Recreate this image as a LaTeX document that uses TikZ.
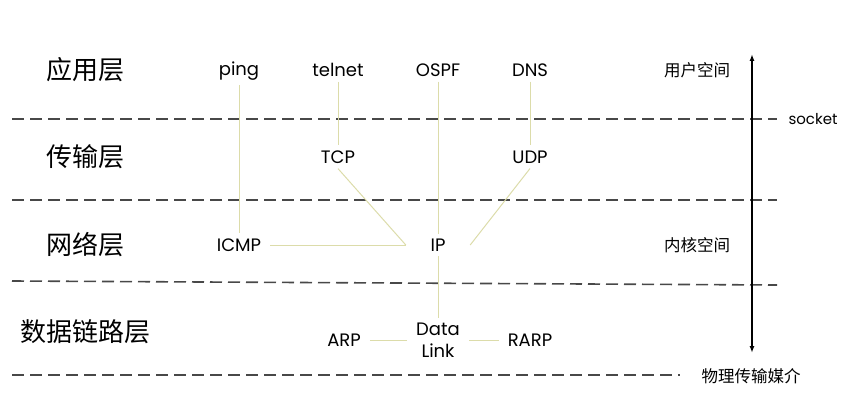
\documentclass[tikz,border=0pt]{standalone}
\usepackage{fontspec}
\setmainfont{Poppins}
\newfontfamily\cjk{Noto Sans CJK SC}
\usetikzlibrary{arrows.meta}
\definecolor{linkc}{HTML}{DCDCAA}
\definecolor{sepc}{HTML}{484848}

\begin{document}
\begin{tikzpicture}[x=1pt,y=-1pt,
		layer/.style={font=\cjk\fontsize{26}{30}\selectfont},
		proto/.style={font=\fontsize{18}{21}\selectfont,inner xsep=9pt,inner ysep=5pt},
		side/.style={font=\cjk\fontsize{16.5}{20}\selectfont},
		link/.style={color=linkc,line width=1pt},
		sep/.style={color=sepc,line width=1.6pt,dash pattern=on 12pt off 6pt}]
		\useasboundingbox (0,0) rectangle (848,409);
		
		\node[layer] (app) at (85, 70) {应用层};
		\node[layer] (trans) at (85, 157) {传输层};
		\node[layer] (net) at (85, 245) {网络层};
		\node[layer] (dl) at (85, 332) {数据链路层};
		
		\node[proto] (ping) at (239, 71) {ping};
		\node[proto] (telnet) at (338, 70) {telnet};
		\node[proto] (ospf) at (438, 70) {OSPF};
		\node[proto] (dns) at (530, 70) {DNS};
		\node[proto] (tcp) at (338, 157) {TCP};
		\node[proto] (udp) at (530, 157) {UDP};
		\node[proto] (icmp) at (239, 245) {ICMP};
		\node[proto,minimum width=64pt] (ip) at (438, 245) {IP};
		\node[proto,align=center,font=\fontsize{18}{22}\selectfont] (datalink) at (438, 340) {Data\\Link};
		\node[proto] (arp) at (344, 340) {ARP};
		\node[proto] (rarp) at (530, 340) {RARP};
		
		\node[side] (user) at (697, 70) {用户空间};
		\node[font=\fontsize{15}{18}\selectfont] (socket) at (813, 119) {socket};
		\node[side] (kernel) at (697, 245) {内核空间};
		\node[side] (phys) at (751, 376) {物理传输媒介};
		
		\draw[sep] (12, 119) -- (777, 119);
		\draw[sep] (12, 200) -- (777, 200);
		\draw[sep] (12, 281) -- (777, 285);
		\draw[sep] (12, 375) -- (680, 375);
		\draw[{Latex[length=7pt,width=5pt]}-{Latex[length=7pt,width=5pt]},line width=1.5pt] (752, 54) -- (752, 353);
		
		\draw[link] (ping) -- (icmp);
		\draw[link] (telnet) -- (tcp);
		\draw[link] (ospf) -- (ip);
		\draw[link] (dns) -- (udp);
		\draw[link] (icmp) -- (ip.west);
		\draw[link] (tcp.south) -- (ip.west);
		\draw[link] (udp.south) -- (ip.east);
		\draw[link] (ip) -- (datalink);
		\draw[link] (arp) -- (datalink);
		\draw[link] (datalink) -- (rarp);
\end{tikzpicture}
\end{document}
